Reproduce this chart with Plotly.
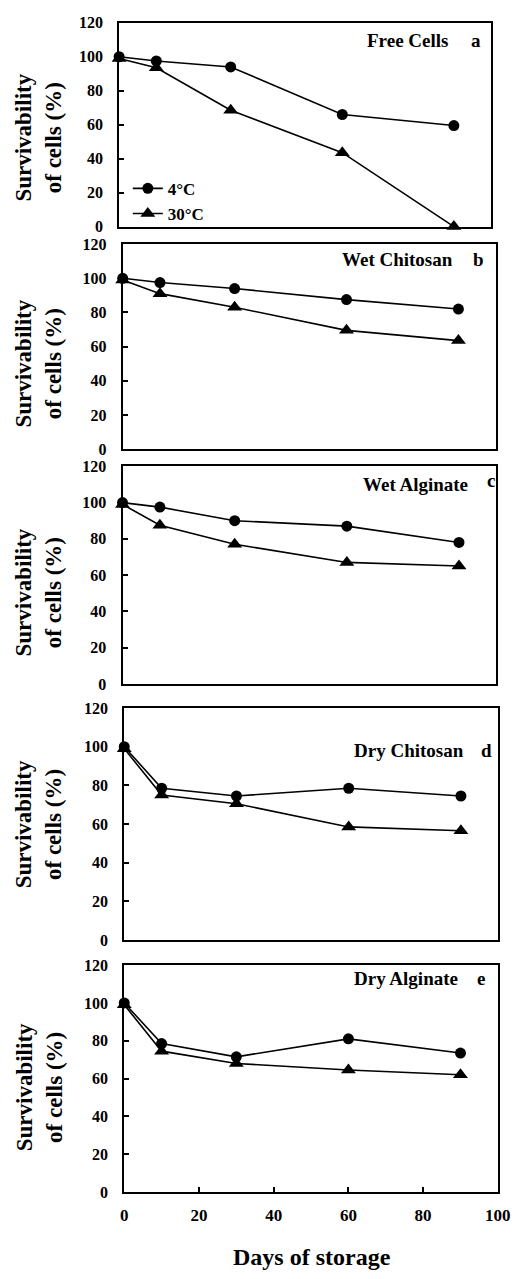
import plotly.graph_objects as go

# ---- data ----
days = [0, 10, 30, 60, 90]
free_4 = [100, 97.5, 94, 66, 59.5]
free_30 = [99, 93.5, 68.5, 43.5, 0]
wetchi_4 = [100, 97.5, 94, 87.5, 82]
wetchi_30 = [99, 91, 83, 69.5, 63.5]
wetalg_4 = [100, 97.5, 90, 87, 78]
wetalg_30 = [99, 87.5, 77, 67, 65]
drychi_4 = [100, 78.5, 74.5, 78.5, 74.5]
drychi_30 = [99, 75, 70.5, 58.5, 56.5]
dryalg_4 = [100, 78.5, 71.5, 81, 73.5]
dryalg_30 = [99, 74.5, 68, 64.5, 62]

panel_names = ["Free Cells", "Wet Chitosan", "Wet Alginate", "Dry Chitosan", "Dry Alginate"]
panel_letters = ["a", "b", "c", "d", "e"]
series_4 = [free_4, wetchi_4, wetalg_4, drychi_4, dryalg_4]
series_30 = [free_30, wetchi_30, wetalg_30, drychi_30, dryalg_30]
y_ticks = [0, 20, 40, 60, 80, 100, 120]
x_ticks = [0, 20, 40, 60, 80, 100]
legend_names = ["4°C", "30°C"]

# ---- layout (pixel geometry) ----
W, H = 521, 1279
boxes = [  # x0, x1, y0(top), y1(bottom) in pixels
    (119, 503.5, 15, 221.5),
    (122.7, 508.3, 239.3, 447),
    (122.5, 509, 464.5, 685),
    (124.3, 511, 709.5, 944.5),
    (124.3, 510.5, 970, 1200),
]
label_pos = [  # (name_x, name_y, letter_x, letter_y)
    (417, 33, 488, 33),
    (407, 255, 491, 255),
    (425, 483, 503, 479),
    (419, 752, 499, 752),
    (416, 984, 493, 984),
]
ytitle_pos = [(35.5, 131), (35.5, 360), (35.5, 592), (35.5, 827), (37, 1094)]

def px(x):
    return x / W

def py(y):
    return 1 - y / H

FONT = "Liberation Serif, Times New Roman, serif"

fig = go.Figure()
layout = dict(
    width=W, height=H,
    margin=dict(l=0, r=0, t=0, b=0),
    plot_bgcolor="white", paper_bgcolor="white",
    font=dict(family=FONT, color="black", size=18, weight="bold"),
    showlegend=True,
)
annotations = []
for i in range(5):
    n = "" if i == 0 else str(i + 1)
    xa, ya = "x" + n, "y" + n
    fig.add_trace(go.Scatter(
        x=days, y=series_4[i], xaxis=xa, yaxis=ya, mode="lines+markers",
        name=legend_names[0], showlegend=(i == 0), cliponaxis=False,
        line=dict(color="black", width=1.6),
        marker=dict(symbol="circle", size=11, color="black"),
    ))
    fig.add_trace(go.Scatter(
        x=days, y=series_30[i], xaxis=xa, yaxis=ya, mode="lines+markers",
        name=legend_names[1], showlegend=(i == 0), cliponaxis=False,
        line=dict(color="black", width=1.6),
        marker=dict(symbol="triangle-up", size=13, color="black"),
    ))
    x0, x1, y0, y1 = boxes[i]
    last = (i == 4)
    layout["xaxis" + n] = dict(
        domain=[px(x0), px(x1)], range=[0, 100], anchor=ya,
        showline=True, mirror=True, linecolor="black", linewidth=2,
        showgrid=False, zeroline=False,
        tickvals=x_ticks if last else [], ticks="inside" if last else "",
        ticklen=5, tickwidth=2, tickcolor="black",
        showticklabels=last, ticklabeloverflow="allow",
        tickfont=dict(family=FONT, size=17, color="black", weight="bold"),
        ticklabelstandoff=7,
    )
    layout["yaxis" + n] = dict(
        domain=[py(y1), py(y0)], range=[0, 120], anchor=xa,
        showline=True, mirror=True, linecolor="black", linewidth=2,
        showgrid=False, zeroline=False,
        tickvals=y_ticks, ticks="inside", ticklen=5, tickwidth=2, tickcolor="black",
        tickfont=dict(family=FONT, size=16, color="black", weight="bold"),
        ticklabelstandoff=11,
    )
    nx, ny, lx, ly = label_pos[i]
    annotations.append(dict(
        xref="paper", yref="paper", x=px(nx), y=py(ny), text=panel_names[i],
        showarrow=False, xanchor="center", yanchor="middle",
        font=dict(family=FONT, size=19, color="black", weight="bold"),
    ))
    annotations.append(dict(
        xref="paper", yref="paper", x=px(lx), y=py(ly), text=panel_letters[i],
        showarrow=False, xanchor="center", yanchor="middle",
        font=dict(family=FONT, size=19, color="black", weight="bold"),
    ))
    tx, ty = ytitle_pos[i]
    annotations.append(dict(
        xref="paper", yref="paper", x=px(tx), y=py(ty),
        text="Survivability<br>of cells (%)", textangle=-90,
        showarrow=False, xanchor="center", yanchor="middle",
        font=dict(family=FONT, size=23, color="black", weight="bold"),
    ))

annotations.append(dict(
    xref="paper", yref="paper", x=px(318), y=py(1266), text="Days of storage",
    showarrow=False, xanchor="center", yanchor="middle",
    font=dict(family=FONT, size=24, color="black", weight="bold"),
))

layout["annotations"] = annotations
layout["legend"] = dict(
    x=px(128), y=py(165), xanchor="left", yanchor="top",
    bgcolor="rgba(0,0,0,0)", borderwidth=0,
    font=dict(family=FONT, size=17, color="black", weight="bold"),
    itemwidth=30, tracegroupgap=0,
)
fig.update_layout(**layout)
fig.write_html(
    "out.html",
    config={"displayModeBar": False},
    post_script="document.body.style.margin='0';document.body.style.overflow='hidden';",
)
